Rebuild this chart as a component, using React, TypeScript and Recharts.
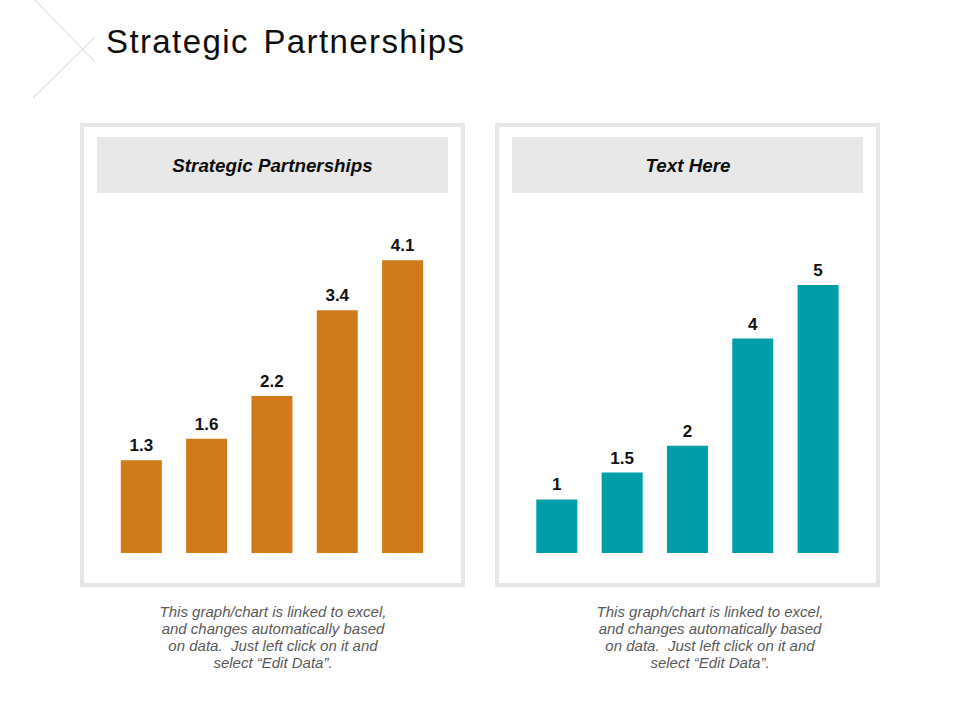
import { Bar, BarChart, LabelList, XAxis, YAxis } from "recharts";

const leftCategories = ["Category 1", "Category 2", "Category 3", "Category 4", "Category 5"];
const leftValues = [1.3, 1.6, 2.2, 3.4, 4.1];
const rightCategories = ["Category 1", "Category 2", "Category 3", "Category 4", "Category 5"];
const rightValues = [1, 1.5, 2, 4, 5];

const pageTitle = "Strategic Partnerships";
const panelTitles = ["Strategic Partnerships", "Text Here"];
const noteLines = [
	"This graph/chart is linked to excel,",
	"and changes automatically based",
	"on data.  Just left click on it and",
	"select \u201cEdit Data\u201d.",
];

const FONT = "'Liberation Sans', Arial, sans-serif";

const leftData = leftCategories.map((name, i) => ({ name, value: leftValues[i] }));
const rightData = rightCategories.map((name, i) => ({ name, value: rightValues[i] }));

type PanelProps = {
	data: { name: string; value: number }[];
	left: number;
	color: string;
	yMax: number;
	marginTop: number;
	marginLeft: number;
	marginRight: number;
};

function PanelChart({ data, left, color, yMax, marginTop, marginLeft, marginRight }: PanelProps) {
	return (
		<div style={{ position: "absolute", left, top: 123 }}>
			<BarChart
				width={385}
				height={464}
				data={data}
				margin={{ top: marginTop, right: marginRight, bottom: 34, left: marginLeft }}
			>
				<XAxis dataKey="name" hide />
				<YAxis domain={[0, yMax]} hide />
				<Bar dataKey="value" fill={color} barSize={41} isAnimationActive={false}>
					<LabelList
						dataKey="value"
						position="top"
						offset={9}
						fill="#111111"
						fontSize={17}
						fontWeight="bold"
						fontFamily={FONT}
					/>
				</Bar>
			</BarChart>
		</div>
	);
}

export default function App() {
	return (
		<div
			style={{
				position: "absolute",
				left: 0,
				top: 0,
				width: 960,
				height: 720,
				background: "#ffffff",
				overflow: "hidden",
			}}
		>
			<svg width={960} height={720} style={{ position: "absolute", left: 0, top: 0 }}>
				{/* corner decoration */}
				<line x1={35} y1={0} x2={95} y2={62} stroke="#d4d4d4" strokeWidth={1} />
				<line x1={95} y1={37} x2={33} y2={98} stroke="#d4d4d4" strokeWidth={1} />

				<text
					x={106}
					y={53}
					fontFamily={FONT}
					fontSize={33}
					fill="#0d0d0d"
					letterSpacing={1.4}
					wordSpacing={4}
				>
					{pageTitle}
				</text>

				{/* panel frames */}
				<rect x={82} y={125} width={381} height={460} fill="none" stroke="#e6e6e6" strokeWidth={4} />
				<rect x={497} y={125} width={381} height={460} fill="none" stroke="#e6e6e6" strokeWidth={4} />

				{/* panel headers */}
				<rect x={97} y={137} width={351} height={56} fill="#e8e8e8" />
				<rect x={512} y={137} width={351} height={56} fill="#e8e8e8" />
				<text
					x={272.5}
					y={171.8}
					textAnchor="middle"
					fontFamily={FONT}
					fontSize={18.8}
					fontWeight="bold"
					fontStyle="italic"
					fill="#0d0d0d"
				>
					{panelTitles[0]}
				</text>
				<text
					x={688}
					y={171.8}
					textAnchor="middle"
					fontFamily={FONT}
					fontSize={18.8}
					fontWeight="bold"
					fontStyle="italic"
					fill="#0d0d0d"
				>
					{panelTitles[1]}
				</text>

				{/* notes under the panels */}
				{[273, 710].map((cx) => (
					<text
						key={cx}
						textAnchor="middle"
						fontFamily={FONT}
						fontSize={15}
						fontStyle="italic"
						fill="#595959"
					>
						{noteLines.map((line, i) => (
							<tspan key={i} x={cx} y={616.5 + i * 17.3} style={{ whiteSpace: "pre" }}>
								{line}
							</tspan>
						))}
					</text>
				))}
			</svg>

			<PanelChart data={leftData} left={80} color="#d07b1b" yMax={5} marginTop={73} marginLeft={28.8} marginRight={29.6} />
			<PanelChart data={rightData} left={495} color="#009ea8" yMax={6} marginTop={108.4} marginLeft={29.3} marginRight={29.1} />
		</div>
	);
}
